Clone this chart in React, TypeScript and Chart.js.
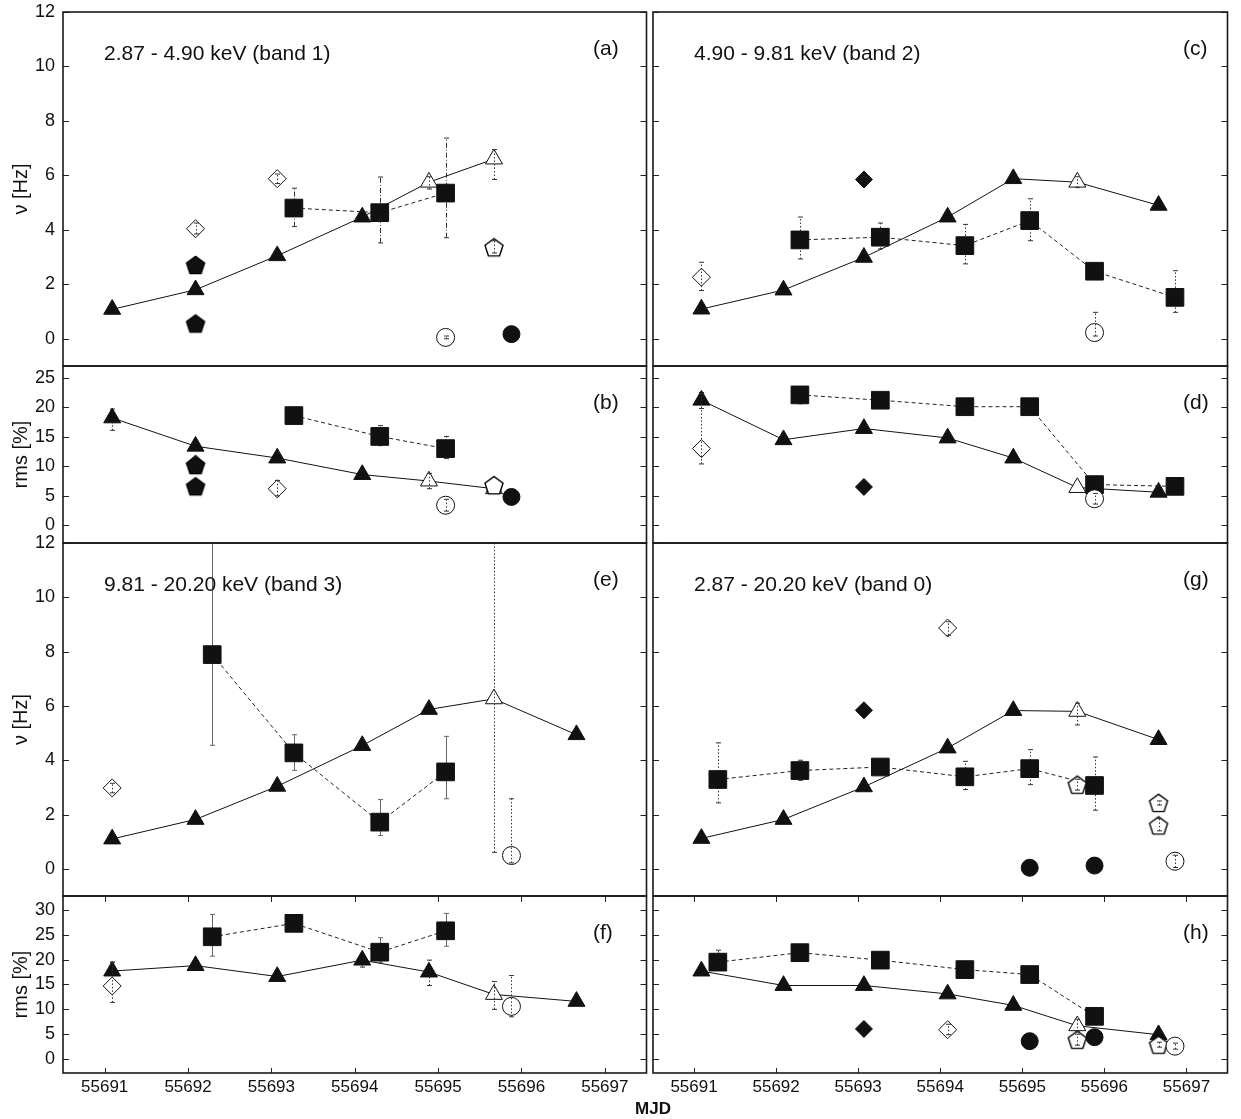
import React, { useEffect, useRef } from "react";
import { Chart, registerables } from "chart.js";

Chart.register(...registerables);

type V = number | null;
type Err = number[] | null; // [low, high]
type Tup = number[]; // [mjd, value, errLow?, errHigh?]

const FONT = "'Liberation Sans', Arial, Helvetica, sans-serif";

// ---------- tick labels ----------
const mjdTicks = [55691, 55692, 55693, 55694, 55695, 55696, 55697];
const nuTicks = [0, 2, 4, 6, 8, 10, 12];
const rmsTicksUpper = [0, 5, 10, 15, 20, 25];
const rmsTicksLower = [0, 5, 10, 15, 20, 25, 30];

const bandLabels = [
  "2.87 - 4.90 keV (band 1)",
  "4.90 - 9.81 keV (band 2)",
  "9.81 - 20.20 keV (band 3)",
  "2.87 - 20.20 keV (band 0)",
];
const panelLetters = ["(a)", "(b)", "(c)", "(d)", "(e)", "(f)", "(g)", "(h)"];

// ---------- observation times ----------
const triTimes = [55691.09, 55692.09, 55693.07, 55694.09, 55694.89, 55695.67, 55696.66];
const sqTimes = [55691.29, 55692.29, 55693.27, 55694.30, 55695.09, 55695.88, 55696.86];

const triOpenBand1 = [false, false, false, false, true, true, false];
const triOpenOther = [false, false, false, false, false, true, false];

// ---------- (a) band 1, frequency ----------
const triNuBand1: V[] = [1.08, 1.8, 3.05, 4.47, 5.75, 6.6, null];
const triNuErrBand1: Err[] = [null, null, null, null, [5.5, 5.95], [5.85, 6.95], null];
const sqNuBand1: V[] = [null, null, 4.8, 4.63, 5.35, null, null];
const sqNuErrBand1: Err[] = [null, null, [4.12, 5.53], [3.52, 5.94], [3.71, 7.37], null, null];
const openDiamondNuBand1: Tup[] = [[55692.09, 4.04, 3.85, 4.25], [55693.07, 5.88, 5.7, 6.05]];
const filledPentagonNuBand1: Tup[] = [[55692.09, 2.71], [55692.09, 0.56]];
const openPentagonNuBand1: Tup[] = [[55695.67, 3.36, 3.15, 3.6]];
const openCircleNuBand1: Tup[] = [[55695.09, 0.05, 0.0, 0.1]];
const filledCircleNuBand1: Tup[] = [[55695.88, 0.17]];

// ---------- (b) band 1, rms ----------
const triRmsBand1: V[] = [18.2, 13.4, 11.4, 8.6, 7.5, 6.2, null];
const triRmsErrBand1: Err[] = [[16.1, 19.7], null, null, null, [6.2, 8.8], null, null];
const sqRmsBand1: V[] = [null, null, 18.6, 15.06, 13.0, null, null];
const sqRmsErrBand1: Err[] = [null, null, null, [13.5, 16.9], [11.3, 15.06], null, null];
const openDiamondRmsBand1: Tup[] = [[55692.09, 10.4], [55693.07, 6.2, 5.0, 7.6]];
const filledPentagonRmsBand1: Tup[] = [[55692.09, 10.2], [55692.09, 6.6]];
const openPentagonRmsBand1: Tup[] = [[55695.67, 6.8]];
const openCircleRmsBand1: Tup[] = [[55695.09, 3.4, 2.4, 4.4]];
const filledCircleRmsBand1: Tup[] = [[55695.88, 4.8]];

// ---------- (c) band 2, frequency ----------
const triNuBand2: V[] = [1.09, 1.79, 2.99, 4.47, 5.88, 5.75, 4.9];
const triNuErrBand2: Err[] = [null, null, null, null, null, [5.55, 5.95], null];
const sqNuBand2: V[] = [null, 3.63, 3.73, 3.42, 4.34, 2.48, 1.52];
const sqNuErrBand2: Err[] = [null, [2.93, 4.47], [3.3, 4.25], [2.75, 4.2], [3.6, 5.14], null, [0.97, 2.5]];
const openDiamondNuBand2: Tup[] = [[55691.09, 2.26, 1.77, 2.81]];
const filledDiamondNuBand2: Tup[] = [[55693.07, 5.85]];
const openCircleNuBand2: Tup[] = [[55695.88, 0.23, 0.1, 0.97]];

// ---------- (d) band 2, rms ----------
const triRmsBand2: V[] = [21.2, 14.5, 16.4, 14.8, 11.4, 6.4, 5.6];
const triRmsErrBand2: Err[] = [[19.8, 22.5], null, null, null, null, null, null];
const sqRmsBand2: V[] = [null, 22.1, 21.2, 20.1, 20.1, 6.9, 6.6];
const sqRmsErrBand2: Err[] = [null, [20.6, 23.4], null, [19.0, 21.4], null, null, null];
const openDiamondRmsBand2: Tup[] = [[55691.09, 13.0, 10.4, 22.3]];
const filledDiamondRmsBand2: Tup[] = [[55693.07, 6.5]];
const openCircleRmsBand2: Tup[] = [[55695.88, 4.5, 3.6, 5.4]];

// ---------- (e) band 3, frequency ----------
const triNuBand3: V[] = [1.1, 1.82, 3.04, 4.54, 5.87, 6.26, 4.94];
const triNuErrBand3: Err[] = [null, null, null, null, null, [0.61, 14], null];
const sqNuBand3: V[] = [null, 7.89, 4.27, 1.72, 3.57, null, null];
const sqNuErrBand3: Err[] = [null, [4.55, 14], [3.63, 4.94], [1.23, 2.55], [2.58, 4.88], null, null];
const openDiamondNuBand3: Tup[] = [[55691.09, 2.98, 2.8, 3.15]];
const openCircleNuBand3: Tup[] = [[55695.88, 0.49, 0.22, 2.58]];

// ---------- (f) band 3, rms ----------
const triRmsBand3: V[] = [17.7, 18.8, 16.6, 19.9, 17.5, 13.0, 11.6];
const triRmsErrBand3: Err[] = [[16.0, 19.5], null, null, [18.5, 21.0], [14.8, 19.9], [10.0, 15.6], null];
const sqRmsBand3: V[] = [null, 24.6, 27.3, 21.5, 25.8, null, null];
const sqRmsErrBand3: Err[] = [null, [20.7, 29.1], null, [19.4, 24.4], [22.7, 29.3], null, null];
const openDiamondRmsBand3: Tup[] = [[55691.09, 14.7, 11.4, 19.4]];
const openCircleRmsBand3: Tup[] = [[55695.88, 10.6, 8.5, 16.8]];

// ---------- (g) band 0, frequency ----------
const triNuBand0: V[] = [1.12, 1.82, 3.02, 4.45, 5.83, 5.8, 4.76];
const triNuErrBand0: Err[] = [null, null, null, null, null, [5.3, 6.1], null];
const sqNuBand0: V[] = [3.29, 3.62, 3.75, 3.39, 3.69, 3.07, null];
const sqNuErrBand0: Err[] = [[2.43, 4.64], [3.26, 4.0], null, [2.92, 3.96], [3.1, 4.39], [2.16, 4.12], null];
const openDiamondNuBand0: Tup[] = [[55694.09, 8.87, 8.6, 9.1]];
const filledDiamondNuBand0: Tup[] = [[55693.07, 5.84]];
const openPentagonNuBand0: Tup[] = [[55695.67, 3.1, 2.9, 3.3], [55696.66, 2.43, 2.35, 2.5], [55696.66, 1.6, 1.4, 1.85]];
const filledCircleNuBand0: Tup[] = [[55695.09, 0.04], [55695.88, 0.12]];
const openCircleNuBand0: Tup[] = [[55696.86, 0.28, 0.05, 0.5]];

// ---------- (h) band 0, rms ----------
const triRmsBand0: V[] = [17.7, 14.8, 14.8, 13.1, 10.8, 6.7, 4.9];
const triRmsErrBand0: Err[] = [null, null, null, null, null, [5.5, 8.0], null];
const sqRmsBand0: V[] = [19.5, 21.4, 19.9, 18.0, 17.0, 8.6, null];
const sqRmsErrBand0: Err[] = [[18.6, 21.9], null, null, null, null, null, null];
const filledDiamondRmsBand0: Tup[] = [[55693.07, 6.06]];
const openDiamondRmsBand0: Tup[] = [[55694.09, 5.9, 4.9, 7.0]];
const filledCircleRmsBand0: Tup[] = [[55695.09, 3.6], [55695.88, 4.4]];
const openPentagonRmsBand0: Tup[] = [[55695.67, 3.9, 2.8, 5.0], [55696.66, 2.9, 2.4, 3.4]];
const openCircleRmsBand0: Tup[] = [[55696.86, 2.6, 2.0, 3.2]];

// ---------- layout constants ----------
const ROW_EDGES = [12, 366, 543, 896, 1073];
const PAD = 22;
const PAGE_H = 1119;

type Shape = "openDiamond" | "filledDiamond" | "openPentagon" | "filledPentagon" | "openCircle" | "filledCircle";
interface MarkerSet { shape: Shape; pts: Tup[] }
interface Spec {
  col: number; row: number;
  yTicks: number[]; yMin: number; yMax: number; yTitle: string;
  letter: string; band: string | null;
  tri: V[]; triOpen: boolean[]; triErr: Err[];
  sq: V[]; sqErr: Err[]; sqErrStyle: string;
  markers: MarkerSet[];
}

const NU_RANGE = [-1, 12];
const RMS_UP_RANGE = [-3, 27];
const RMS_LOW_RANGE = [-2.8, 32.8];

const specs: Spec[] = [
  { col: 0, row: 0, yTicks: nuTicks, yMin: NU_RANGE[0], yMax: NU_RANGE[1], yTitle: "ν [Hz]", letter: panelLetters[0], band: bandLabels[0],
    tri: triNuBand1, triOpen: triOpenBand1, triErr: triNuErrBand1, sq: sqNuBand1, sqErr: sqNuErrBand1, sqErrStyle: "dashdot",
    markers: [
      { shape: "openDiamond", pts: openDiamondNuBand1 },
      { shape: "filledPentagon", pts: filledPentagonNuBand1 },
      { shape: "openPentagon", pts: openPentagonNuBand1 },
      { shape: "openCircle", pts: openCircleNuBand1 },
      { shape: "filledCircle", pts: filledCircleNuBand1 },
    ] },
  { col: 0, row: 1, yTicks: rmsTicksUpper, yMin: RMS_UP_RANGE[0], yMax: RMS_UP_RANGE[1], yTitle: "rms [%]", letter: panelLetters[1], band: null,
    tri: triRmsBand1, triOpen: triOpenBand1, triErr: triRmsErrBand1, sq: sqRmsBand1, sqErr: sqRmsErrBand1, sqErrStyle: "dotted",
    markers: [
      { shape: "openDiamond", pts: openDiamondRmsBand1 },
      { shape: "filledPentagon", pts: filledPentagonRmsBand1 },
      { shape: "openCircle", pts: openCircleRmsBand1 },
      { shape: "filledCircle", pts: filledCircleRmsBand1 },
      { shape: "openPentagon", pts: openPentagonRmsBand1 },
    ] },
  { col: 0, row: 2, yTicks: nuTicks, yMin: NU_RANGE[0], yMax: NU_RANGE[1], yTitle: "ν [Hz]", letter: panelLetters[4], band: bandLabels[2],
    tri: triNuBand3, triOpen: triOpenOther, triErr: triNuErrBand3, sq: sqNuBand3, sqErr: sqNuErrBand3, sqErrStyle: "solid",
    markers: [
      { shape: "openDiamond", pts: openDiamondNuBand3 },
      { shape: "openCircle", pts: openCircleNuBand3 },
    ] },
  { col: 0, row: 3, yTicks: rmsTicksLower, yMin: RMS_LOW_RANGE[0], yMax: RMS_LOW_RANGE[1], yTitle: "rms [%]", letter: panelLetters[5], band: null,
    tri: triRmsBand3, triOpen: triOpenOther, triErr: triRmsErrBand3, sq: sqRmsBand3, sqErr: sqRmsErrBand3, sqErrStyle: "solid",
    markers: [
      { shape: "openDiamond", pts: openDiamondRmsBand3 },
      { shape: "openCircle", pts: openCircleRmsBand3 },
    ] },
  { col: 1, row: 0, yTicks: nuTicks, yMin: NU_RANGE[0], yMax: NU_RANGE[1], yTitle: "ν [Hz]", letter: panelLetters[2], band: bandLabels[1],
    tri: triNuBand2, triOpen: triOpenOther, triErr: triNuErrBand2, sq: sqNuBand2, sqErr: sqNuErrBand2, sqErrStyle: "dotted",
    markers: [
      { shape: "openDiamond", pts: openDiamondNuBand2 },
      { shape: "filledDiamond", pts: filledDiamondNuBand2 },
      { shape: "openCircle", pts: openCircleNuBand2 },
    ] },
  { col: 1, row: 1, yTicks: rmsTicksUpper, yMin: RMS_UP_RANGE[0], yMax: RMS_UP_RANGE[1], yTitle: "rms [%]", letter: panelLetters[3], band: null,
    tri: triRmsBand2, triOpen: triOpenOther, triErr: triRmsErrBand2, sq: sqRmsBand2, sqErr: sqRmsErrBand2, sqErrStyle: "dotted",
    markers: [
      { shape: "openDiamond", pts: openDiamondRmsBand2 },
      { shape: "filledDiamond", pts: filledDiamondRmsBand2 },
      { shape: "openCircle", pts: openCircleRmsBand2 },
    ] },
  { col: 1, row: 2, yTicks: nuTicks, yMin: NU_RANGE[0], yMax: NU_RANGE[1], yTitle: "ν [Hz]", letter: panelLetters[6], band: bandLabels[3],
    tri: triNuBand0, triOpen: triOpenOther, triErr: triNuErrBand0, sq: sqNuBand0, sqErr: sqNuErrBand0, sqErrStyle: "dotted",
    markers: [
      { shape: "openDiamond", pts: openDiamondNuBand0 },
      { shape: "filledDiamond", pts: filledDiamondNuBand0 },
      { shape: "openPentagon", pts: openPentagonNuBand0 },
      { shape: "filledCircle", pts: filledCircleNuBand0 },
      { shape: "openCircle", pts: openCircleNuBand0 },
    ] },
  { col: 1, row: 3, yTicks: rmsTicksLower, yMin: RMS_LOW_RANGE[0], yMax: RMS_LOW_RANGE[1], yTitle: "rms [%]", letter: panelLetters[7], band: null,
    tri: triRmsBand0, triOpen: triOpenOther, triErr: triRmsErrBand0, sq: sqRmsBand0, sqErr: sqRmsErrBand0, sqErrStyle: "dotted",
    markers: [
      { shape: "filledDiamond", pts: filledDiamondRmsBand0 },
      { shape: "openDiamond", pts: openDiamondRmsBand0 },
      { shape: "filledCircle", pts: filledCircleRmsBand0 },
      { shape: "openPentagon", pts: openPentagonRmsBand0 },
      { shape: "openCircle", pts: openCircleRmsBand0 },
    ] },
];

const ERR_STYLES: Record<string, { dash: number[]; color: string }> = {
  dotted: { dash: [1.5, 2], color: "#333" },
  dashdot: { dash: [5, 2, 1, 2], color: "#333" },
  solid: { dash: [], color: "#666" },
};

function drawBars(chart: any, bars: any[]) {
  if (!bars || !bars.length) return;
  const { ctx, chartArea: ca, scales } = chart;
  ctx.save();
  ctx.beginPath();
  ctx.rect(ca.left, ca.top, ca.right - ca.left, ca.bottom - ca.top);
  ctx.clip();
  for (const b of bars) {
    const px = Math.round(scales.x.getPixelForValue(b.x)) + 0.5;
    const p1 = scales.y.getPixelForValue(b.lo);
    const p2 = scales.y.getPixelForValue(b.hi);
    const st = ERR_STYLES[b.style];
    ctx.strokeStyle = st.color;
    ctx.lineWidth = 1;
    ctx.setLineDash(st.dash);
    ctx.beginPath();
    ctx.moveTo(px, p1);
    ctx.lineTo(px, p2);
    ctx.stroke();
    ctx.setLineDash([]);
    ctx.beginPath();
    ctx.moveTo(px - 2.5, p1);
    ctx.lineTo(px + 2.5, p1);
    ctx.moveTo(px - 2.5, p2);
    ctx.lineTo(px + 2.5, p2);
    ctx.stroke();
  }
  ctx.restore();
}

const errorBarPlugin = {
  id: "errbars",
  beforeDatasetsDraw(chart: any, _args: any, opts: any) {
    drawBars(chart, opts && opts.under);
  },
  afterDatasetsDraw(chart: any, _args: any, opts: any) {
    drawBars(chart, opts && opts.over);
  },
};

const framePlugin = {
  id: "frame",
  afterDraw(chart: any, _args: any, o: any) {
    const { ctx, chartArea, scales } = chart;
    const { left, right, top, bottom } = chartArea;
    ctx.save();
    ctx.strokeStyle = "#222";
    ctx.lineWidth = 1;
    for (const v of o.yTicks) {
      const py = Math.round(scales.y.getPixelForValue(v)) + 0.5;
      ctx.beginPath();
      ctx.moveTo(left, py);
      ctx.lineTo(left + 6, py);
      ctx.moveTo(right - 6, py);
      ctx.lineTo(right, py);
      ctx.stroke();
    }
    if (o.xTicks) {
      for (const v of o.xTicks) {
        const px = Math.round(scales.x.getPixelForValue(v)) + 0.5;
        ctx.beginPath();
        ctx.moveTo(px, top);
        ctx.lineTo(px, top + 6);
        ctx.moveTo(px, bottom - 5);
        ctx.lineTo(px, bottom);
        ctx.stroke();
      }
    }
    ctx.lineWidth = 1.6;
    ctx.strokeStyle = "#1a1a1a";
    ctx.strokeRect(left, top, right - left, bottom - top);
    ctx.fillStyle = "#111";
    ctx.font = `21px ${FONT}`;
    ctx.textBaseline = "middle";
    ctx.textAlign = "left";
    if (o.band) ctx.fillText(o.band, left + 41, top + 42);
    ctx.fillText(o.letter, left + 530, top + 37);
    if (o.mjd) {
      ctx.font = `bold 17px ${FONT}`;
      ctx.textAlign = "center";
      ctx.fillText(o.mjd, left, bottom + 36);
    }
    ctx.restore();
  },
};

function makePentagon(filled: boolean): HTMLCanvasElement {
  const c = document.createElement("canvas");
  c.width = 22;
  c.height = 22;
  const g = c.getContext("2d")!;
  const R = 9.5;
  const cx = 11;
  const cy = 11.9;
  g.beginPath();
  for (let k = 0; k < 5; k++) {
    const a = -Math.PI / 2 + (k * 2 * Math.PI) / 5;
    const x = cx + R * Math.cos(a);
    const y = cy + R * Math.sin(a);
    if (k === 0) g.moveTo(x, y);
    else g.lineTo(x, y);
  }
  g.closePath();
  g.fillStyle = filled ? "#111" : "#fff";
  g.fill();
  g.strokeStyle = "#000";
  g.lineWidth = 1.4;
  g.stroke();
  return c;
}

function shapeProps(shape: Shape, pent: { open: HTMLCanvasElement; filled: HTMLCanvasElement }) {
  switch (shape) {
    case "openDiamond":
      return { pointStyle: "rectRot", pointRadius: 9, pointBackgroundColor: "#fff" };
    case "filledDiamond":
      return { pointStyle: "rectRot", pointRadius: 8.5, pointBackgroundColor: "#111" };
    case "openCircle":
      return { pointStyle: "circle", pointRadius: 9, pointBackgroundColor: "#fff" };
    case "filledCircle":
      return { pointStyle: "circle", pointRadius: 8.5, pointBackgroundColor: "#111" };
    case "openPentagon":
      return { pointStyle: pent.open, pointRadius: 10, pointBackgroundColor: "#fff" };
    default:
      return { pointStyle: pent.filled, pointRadius: 10, pointBackgroundColor: "#111" };
  }
}

function Panel({ spec }: { spec: Spec }) {
  const ref = useRef<HTMLCanvasElement>(null);
  const isLeft = spec.col === 0;
  const isBottom = spec.row === 3;
  const areaTop = ROW_EDGES[spec.row];
  const areaBottom = ROW_EDGES[spec.row + 1];
  const areaH = areaBottom - areaTop;
  const canvasLeft = isLeft ? 0 : 590;
  const canvasWidth = isLeft ? 660 : 651;
  const canvasTop = areaTop - PAD;
  const canvasHeight = isBottom ? PAGE_H - canvasTop : areaH + 2 * PAD;
  const xAxisH = isBottom ? canvasHeight - PAD - areaH : 0;

  useEffect(() => {
    if (!ref.current) return;
    const pent = { open: makePentagon(false), filled: makePentagon(true) };

    const under: any[] = [];
    const over: any[] = [];
    spec.triErr.forEach((e, i) => {
      if (e) (spec.triOpen[i] ? over : under).push({ x: triTimes[i], lo: e[0], hi: e[1], style: "dotted" });
    });
    spec.sqErr.forEach((e, i) => {
      if (e) under.push({ x: sqTimes[i], lo: e[0], hi: e[1], style: spec.sqErrStyle });
    });
    spec.markers.forEach((m) =>
      m.pts.forEach((p) => {
        if (p.length >= 4) over.push({ x: p[0], lo: p[2], hi: p[3], style: "dotted" });
      })
    );

    const triData = triTimes
      .map((t, i) => ({ x: t, y: spec.tri[i], open: spec.triOpen[i] }))
      .filter((p) => p.y !== null);
    const sqData = sqTimes.map((t, i) => ({ x: t, y: spec.sq[i] })).filter((p) => p.y !== null);

    const datasets: any[] = [
      {
        label: "tri",
        data: triData.map((p) => ({ x: p.x, y: p.y })),
        showLine: true,
        borderColor: "#111",
        borderWidth: 1,
        pointStyle: "triangle",
        pointRadius: 9.8,
        pointBackgroundColor: triData.map((p) => (p.open ? "#fff" : "#111")),
        pointBorderColor: "#111",
        pointBorderWidth: 1,
        order: 20,
      },
      {
        label: "sq",
        data: sqData,
        showLine: true,
        borderColor: "#222",
        borderWidth: 1,
        borderDash: [4, 3],
        pointStyle: "rect",
        pointRadius: 12.5,
        pointBackgroundColor: "#111",
        pointBorderColor: "#111",
        pointBorderWidth: 1,
        order: 10,
      },
    ];
    spec.markers.forEach((m, j) => {
      datasets.push({
        label: m.shape,
        data: m.pts.map((p) => ({ x: p[0], y: p[1] })),
        showLine: false,
        pointBorderColor: "#111",
        pointBorderWidth: 1,
        order: 5 - j,
        ...shapeProps(m.shape, pent),
      });
    });

    const xScale: any = {
      type: "linear",
      min: 55690.5,
      max: 55697.5,
      display: isBottom,
      grid: { display: false, drawTicks: false },
      border: { display: false },
      afterBuildTicks: (s: any) => {
        s.ticks = mjdTicks.map((v) => ({ value: v }));
      },
      ticks: {
        autoSkip: false,
        maxRotation: 0,
        minRotation: 0,
        padding: 4,
        color: "#111",
        font: { family: FONT, size: 17 },
        callback: (v: any) => String(v),
      },
    };
    if (isBottom) xScale.afterFit = (s: any) => { s.height = xAxisH; };

    const yScale: any = {
      type: "linear",
      min: spec.yMin,
      max: spec.yMax,
      display: isLeft,
      grid: { display: false, drawTicks: false },
      border: { display: false },
      afterBuildTicks: (s: any) => {
        s.ticks = spec.yTicks.map((v) => ({ value: v }));
      },
      ticks: {
        autoSkip: false,
        padding: 8,
        color: "#111",
        font: { family: FONT, size: 18 },
        callback: (v: any) => String(v),
      },
      title: {
        display: true,
        text: spec.yTitle,
        color: "#111",
        font: { family: FONT, size: 20 },
        padding: { top: 9, bottom: 0 },
      },
    };
    if (isLeft) yScale.afterFit = (s: any) => { s.width = 63; };

    const chart = new Chart(ref.current, {
      type: "scatter",
      data: { datasets },
      options: {
        animation: false,
        responsive: false,
        maintainAspectRatio: false,
        events: [],
        layout: {
          padding: { left: isLeft ? 0 : 63, right: isLeft ? 7 : 3, top: PAD, bottom: isBottom ? 0 : PAD },
        },
        scales: { x: xScale, y: yScale },
        plugins: {
          legend: { display: false },
          tooltip: { enabled: false },
          errbars: { under, over },
          frame: {
            yTicks: spec.yTicks,
            xTicks: isBottom ? mjdTicks : null,
            band: spec.band,
            letter: spec.letter,
            mjd: isBottom && !isLeft ? "MJD" : null,
          },
        } as any,
      },
      plugins: [errorBarPlugin, framePlugin],
    } as any);
    return () => chart.destroy();
  }, []);

  return (
    <canvas
      ref={ref}
      width={canvasWidth}
      height={canvasHeight}
      style={{ position: "absolute", left: canvasLeft, top: canvasTop, width: canvasWidth, height: canvasHeight }}
    />
  );
}

export default function App() {
  return (
    <div
      style={{
        position: "absolute",
        left: 0,
        top: 0,
        width: 1241,
        height: 1119,
        overflow: "hidden",
        background: "#fff",
      }}
    >
      {specs.map((s, i) => (
        <Panel key={i} spec={s} />
      ))}
    </div>
  );
}
